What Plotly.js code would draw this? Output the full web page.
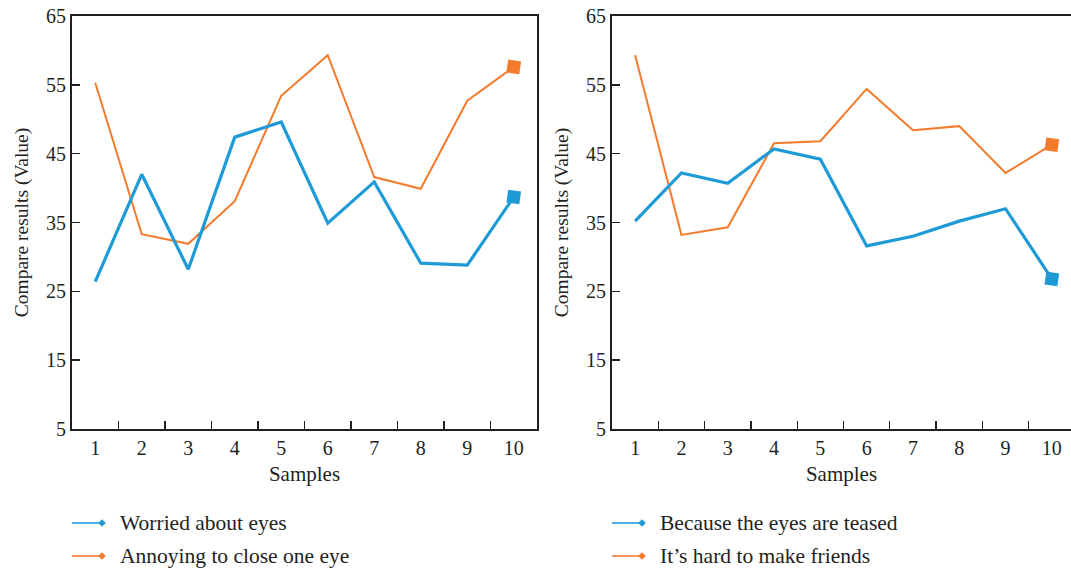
<!DOCTYPE html>
<html>
<head>
<meta charset="utf-8">
<script src="https://cdn.plot.ly/plotly-3.0.1.min.js"></script>
<style>html,body{margin:0;padding:0;background:#fff;}#chart{width:1071px;height:571px;}</style>
</head>
<body>
<div id="chart"></div>
<script>
// ---- data ----
const samples = ["1","2","3","4","5","6","7","8","9","10"];
const worriedAboutEyes   = [26.4, 42.0, 28.2, 47.4, 49.6, 34.9, 40.9, 29.1, 28.8, 38.7];
const annoyingCloseEye   = [55.3, 33.3, 31.9, 38.1, 53.4, 59.3, 41.6, 39.9, 52.7, 57.6];
const eyesTeased         = [35.2, 42.2, 40.7, 45.7, 44.2, 31.6, 33.0, 35.2, 37.0, 26.8];
const hardToMakeFriends  = [59.3, 33.2, 34.3, 46.5, 46.8, 54.4, 48.4, 49.0, 42.2, 46.3];
const legendLeft  = ["Worried about eyes", "Annoying to close one eye"];
const legendRight = ["Because the eyes are teased", "It\u2019s hard to make friends"];
const yTicks = [5, 15, 25, 35, 45, 55, 65];

const BLUE = "#1E9BD7";
const ORANGE = "#F47B2C";
const INK = "#231F20";
const FONT = "Liberation Serif, DejaVu Serif, serif";

function endSizes(arr, s) { return arr.map((v, i) => i === arr.length - 1 ? s : 0); }

function series(y, color, width, xa, ya, name) {
  return {
    type: "scatter", mode: "lines+markers", name: name,
    x: samples, y: y, xaxis: xa, yaxis: ya,
    line: {color: color, width: width},
    marker: {symbol: "square", size: endSizes(y, 13), color: color, opacity: 1, angle: 8, line: {width: 0}},
    opacity: 1,
    showlegend: false, hoverinfo: "x+y"
  };
}

const traces = [
  series(annoyingCloseEye, ORANGE, 2, "x", "y", legendLeft[1]),
  series(worriedAboutEyes, BLUE, 3.2, "x", "y", legendLeft[0]),
  series(hardToMakeFriends, ORANGE, 2, "x2", "y2", legendRight[1]),
  series(eyesTeased, BLUE, 3.2, "x2", "y2", legendRight[0])
];

function xAxis(domain, anchor, rangeMax) {
  return {
    domain: domain, anchor: anchor, type: "category",
    range: [-0.5, rangeMax],
    showline: true, linecolor: INK, linewidth: 2, mirror: true,
    ticks: "inside", ticklen: 8, tickwidth: 1.4, tickcolor: INK, tickson: "boundaries",
    showgrid: false, zeroline: false,
    tickfont: {family: FONT, size: 20, color: INK},
    title: {text: "Samples", font: {family: FONT, size: 21, color: INK}, standoff: 8},
    automargin: false
  };
}
function yAxis(domain, anchor) {
  return {
    domain: domain, anchor: anchor,
    range: [5, 65], tickvals: yTicks, ticktext: yTicks.map(String),
    showline: true, linecolor: INK, linewidth: 2, mirror: true,
    ticks: "inside", ticklen: 8, tickwidth: 1.4, tickcolor: INK,
    showgrid: false, zeroline: false,
    tickfont: {family: FONT, size: 20, color: INK},
    title: {text: "Compare results (Value)", font: {family: FONT, size: 19.5, color: INK}, standoff: 12},
    automargin: false
  };
}

const W = 1071, H = 571;
const yDom = [1 - 429 / H, 1 - 16 / H];

// custom legends (line with diamond at end + text)
const shapes = [], annotations = [];
function legendItem(x0px, ypx, color, text) {
  const x1px = x0px + 32;
  shapes.push({type: "line", xref: "paper", yref: "paper",
    x0: x0px / W, x1: x1px / W, y0: 1 - ypx / H, y1: 1 - ypx / H,
    line: {color: color, width: 1.6}});
  const cx = x1px - 2, d = 3.8;
  shapes.push({type: "path", xref: "paper", yref: "paper", fillcolor: color, line: {width: 0},
    path: "M " + (cx - d) / W + " " + (1 - ypx / H) + " L " + cx / W + " " + (1 - (ypx - d) / H) +
          " L " + (cx + d) / W + " " + (1 - ypx / H) + " L " + cx / W + " " + (1 - (ypx + d) / H) + " Z"});
  annotations.push({xref: "paper", yref: "paper", x: (x0px + 46) / W, y: 1 - ypx / H,
    xanchor: "left", yanchor: "middle", showarrow: false, text: text,
    font: {family: FONT, size: 21.5, color: INK}});
}
legendItem(72, 523, BLUE, legendLeft[0]);
legendItem(72, 556, ORANGE, legendLeft[1]);
legendItem(612, 523, BLUE, legendRight[0]);
legendItem(612, 556, ORANGE, legendRight[1]);

const rightMax = -0.5 + 10 * (W - 612) / (1075 - 612);

const layout = {
  width: W, height: H,
  margin: {l: 0, r: 0, t: 0, b: 0},
  paper_bgcolor: "#fff", plot_bgcolor: "#fff",
  xaxis: xAxis([72 / W, 537 / W], "y", 9.5),
  yaxis: yAxis(yDom, "x"),
  xaxis2: xAxis([612 / W, 1], "y2", rightMax),
  yaxis2: yAxis(yDom, "x2"),
  shapes: shapes, annotations: annotations,
  showlegend: false
};

Plotly.newPlot("chart", traces, layout, {displayModeBar: false, staticPlot: true});
</script>
</body>
</html>
